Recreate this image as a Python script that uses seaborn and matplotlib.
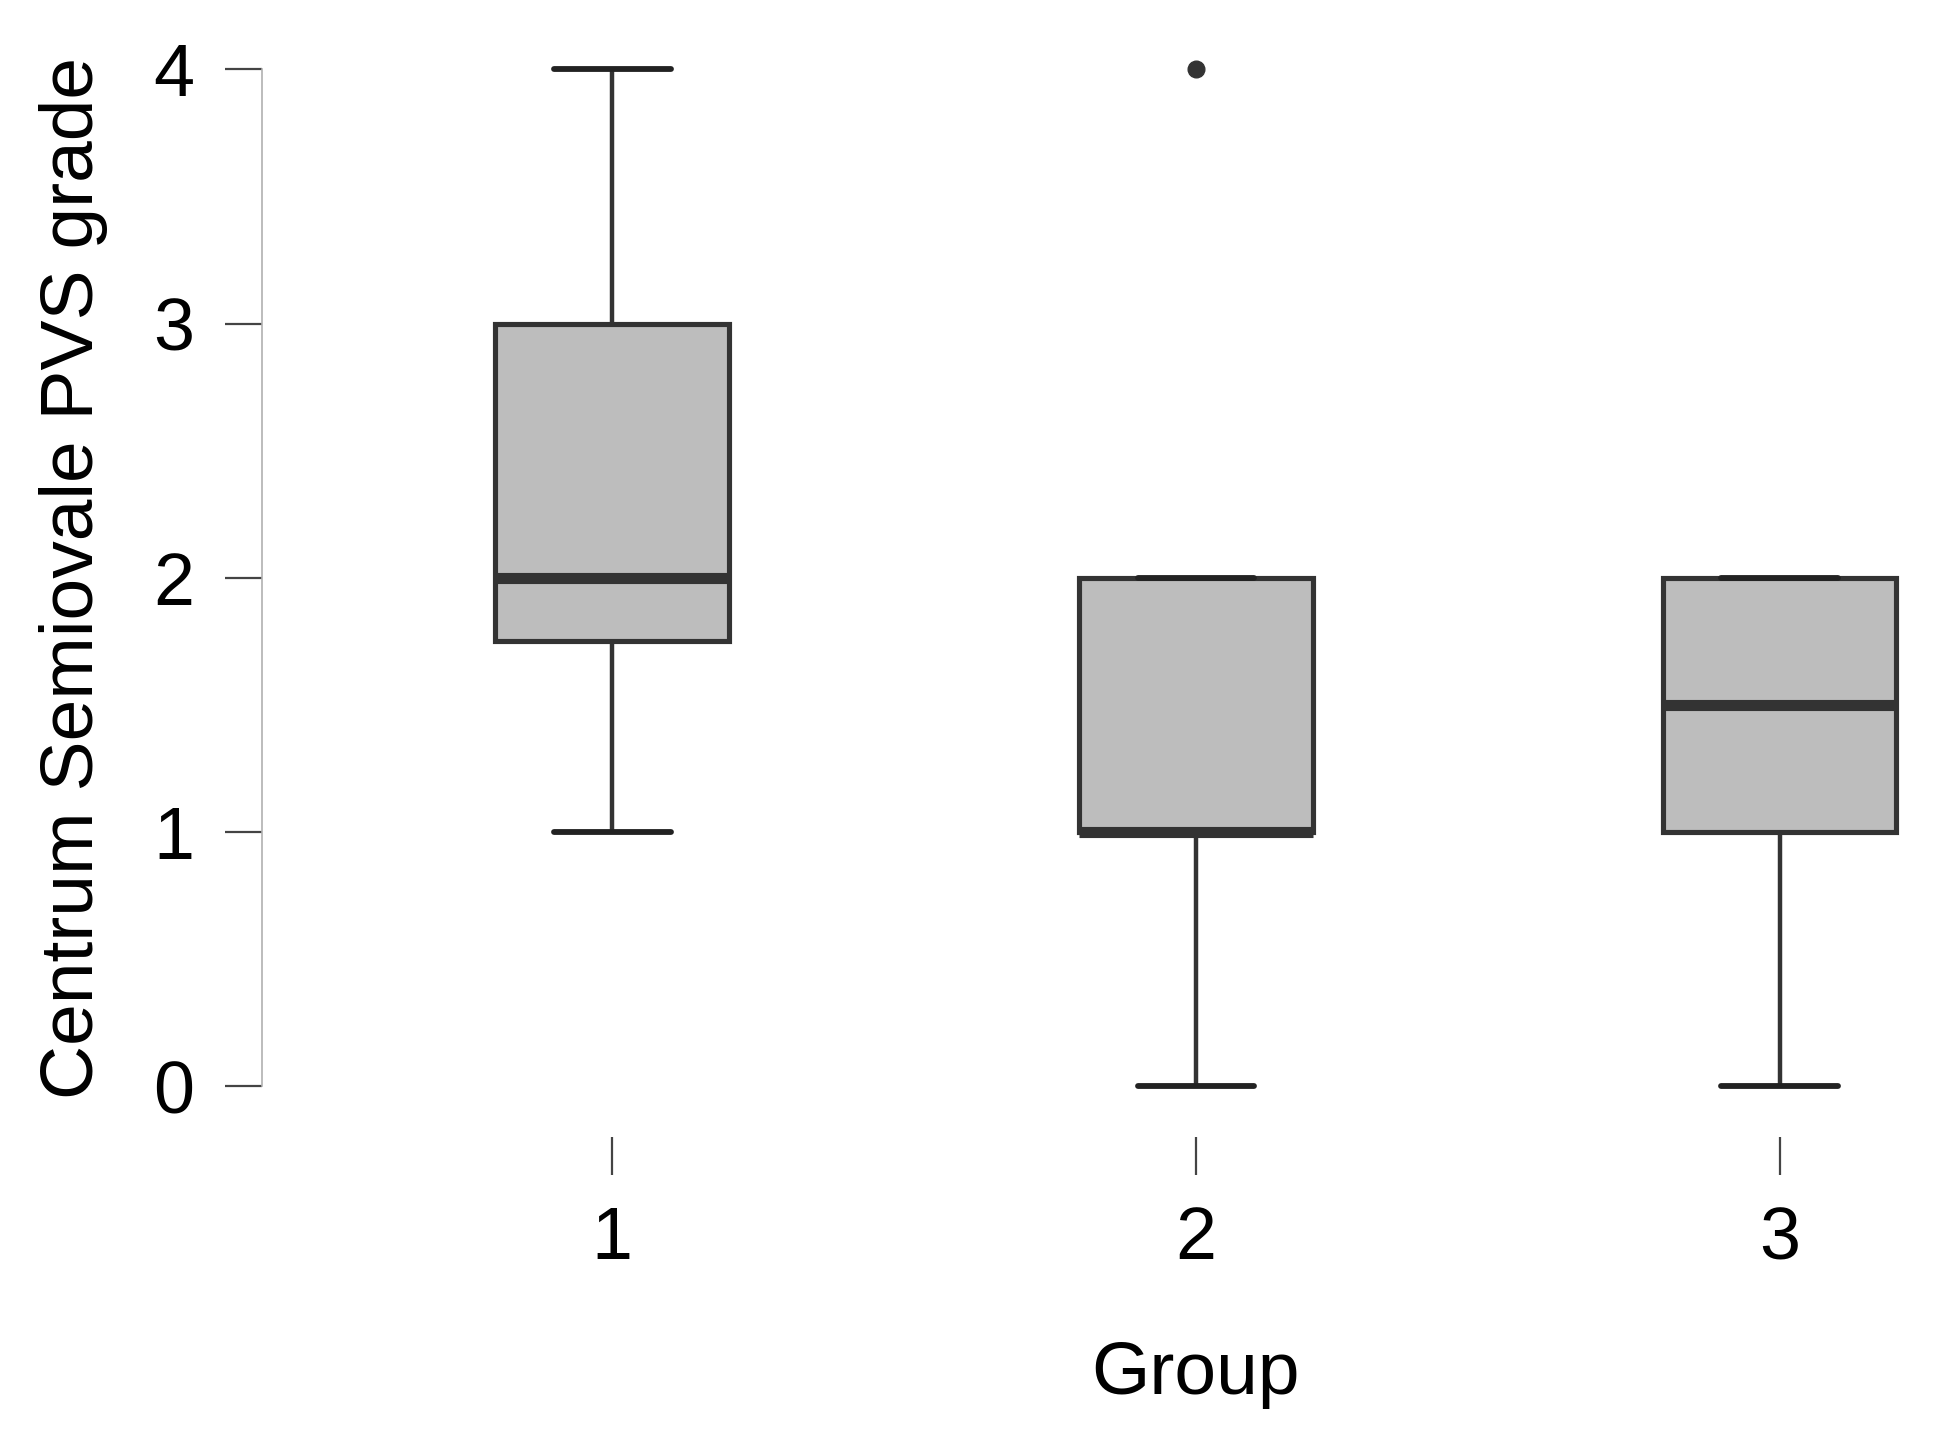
import matplotlib
matplotlib.use("Agg")
import matplotlib.pyplot as plt
import seaborn as sns
import pandas as pd

# grades per group
group_1 = [1, 1, 2, 2, 2, 3, 3, 4]
group_2 = [0, 1, 1, 1, 2, 2, 4]
group_3 = [0, 1, 1, 2, 2, 2]
group_labels = ["1", "2", "3"]
y_ticks = [0, 1, 2, 3, 4]

rows = []
for lab, vals in zip(group_labels, [group_1, group_2, group_3]):
    for v in vals:
        rows.append({"Group": lab, "grade": v})
df = pd.DataFrame(rows)

sns.set_style("white")
plt.rcParams["font.family"] = ["Liberation Sans", "DejaVu Sans"]
plt.rcParams["text.color"] = "black"
plt.rcParams["axes.labelcolor"] = "black"
plt.rcParams["xtick.labelcolor"] = "black"
plt.rcParams["ytick.labelcolor"] = "black"

fig = plt.figure(figsize=(19.41, 14.47), dpi=100)
ax = fig.add_axes([0.135, 0.2142, 0.863, 0.7554])

edge = "#333333"
sns.boxplot(data=df, x="Group", y="grade", order=group_labels, ax=ax,
            width=0.4, color="#bdbdbd", linecolor=edge, linewidth=3.7,
            saturation=1, whis=1.5,
            medianprops=dict(color=edge, linewidth=8),
            capprops=dict(color="#222222", linewidth=4.2),
            whiskerprops=dict(color=edge, linewidth=3.2),
            flierprops=dict(marker="o", markersize=12, markerfacecolor=edge,
                            markeredgecolor=edge))

ax.set_xlim(-0.6, 2.27)
ax.set_ylim(-0.2, 4.1)
ax.set_yticks(y_ticks)
ax.set_yticklabels([str(t) for t in y_ticks])

for s in ["top", "right", "bottom"]:
    ax.spines[s].set_visible(False)
ax.spines["left"].set_bounds(0, 4)
ax.spines["left"].set_color("#b0b0b0")
ax.spines["left"].set_linewidth(1.2)

ax.tick_params(axis="y", length=27, width=1.6, color="#444444",
               pad=22, labelsize=53, left=True)
ax.tick_params(axis="x", length=27, width=1.6, color="#444444",
               pad=22, labelsize=53, bottom=True)

ax.set_xlabel("Group", fontsize=54)
ax.xaxis.set_label_coords(1.6 / 2.87, -0.186)
ax.set_ylabel("Centrum Semiovale PVS grade", fontsize=54)
ax.yaxis.set_label_coords(-0.092, 2.2 / 4.3)

fig.savefig("out.png", dpi=100, facecolor="white")
